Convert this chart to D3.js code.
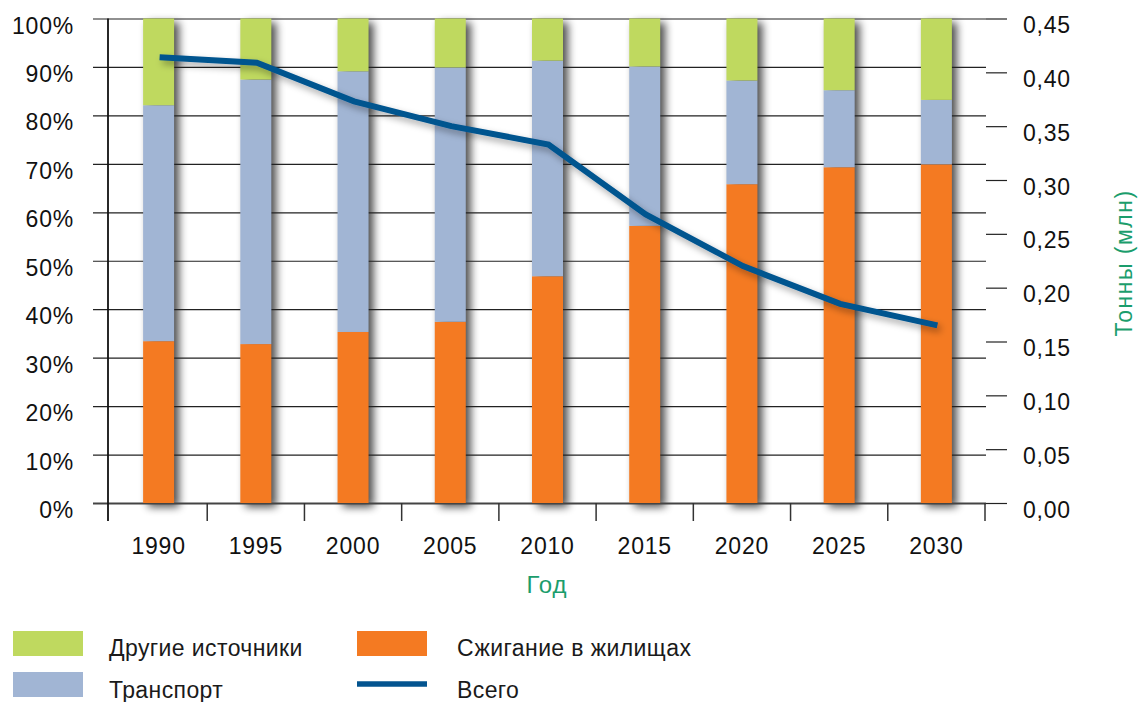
<!DOCTYPE html>
<html>
<head>
<meta charset="utf-8">
<script src="https://cdn.jsdelivr.net/npm/d3@7"></script>
<style>
  html, body { margin: 0; padding: 0; background: #fff; }
  svg { display: block; }
  text { font-family: "Liberation Sans", Arial, Helvetica, sans-serif; fill: #111; }
</style>
</head>
<body>
<svg id="chart" width="1140" height="702"></svg>
<script>
// ---- data ----
const years = ["1990", "1995", "2000", "2005", "2010", "2015", "2020", "2025", "2030"];
// shares, % of total
const household = [33.4, 32.8, 35.3, 37.4, 46.8, 57.2, 65.8, 69.3, 69.9];   // Сжигание в жилищах
const transport = [48.7, 54.6, 53.8, 52.5, 44.5, 32.9, 21.4, 15.9, 13.3];   // Транспорт
const other     = [17.9, 12.6, 10.9, 10.1,  8.7,  9.9, 12.8, 14.8, 16.8];   // Другие источники
// total, million tonnes (right axis)
const total     = [0.414, 0.409, 0.373, 0.350, 0.333, 0.268, 0.220, 0.185, 0.165];

const leftTicks  = [0, 10, 20, 30, 40, 50, 60, 70, 80, 90, 100];
const rightTicks = [0, 0.05, 0.10, 0.15, 0.20, 0.25, 0.30, 0.35, 0.40, 0.45];

const seriesNames  = ["Сжигание в жилищах", "Транспорт", "Другие источники"];
const seriesColors = ["#f47a22", "#a1b5d4", "#bfd95f"];
const lineName = "Всего";
const lineColor = "#03548f";
const xTitle = "Год";
const yRightTitle = "Тонны (млн)";
const titleColor = "#1b9d6c";

// ---- layout ----
const svg = d3.select("#chart");
const plotTop = 18.5, plotBottom = 503;
const axisX = 108, gridLeft = 93, gridRight = 986, rightTickEnd = 1007;
const FONT = "'Liberation Sans', Arial, sans-serif";

const x = d3.scaleBand().domain(years).range([110, 985]).paddingInner(0).paddingOuter(0);
const yL = d3.scaleLinear().domain([0, 100]).range([plotBottom, plotTop]);
const yR = d3.scaleLinear().domain([0, 0.45]).range([plotBottom, plotTop]);
const barW = 31;

// filters
const defs = svg.append("defs");
const f = defs.append("filter").attr("id", "barShadow")
  .attr("x", "-60%").attr("y", "-10%").attr("width", "220%").attr("height", "130%");
f.append("feGaussianBlur").attr("in", "SourceAlpha").attr("stdDeviation", 4.5).attr("result", "b");
f.append("feOffset").attr("in", "b").attr("dx", 5).attr("dy", 4).attr("result", "o");
f.append("feComponentTransfer").attr("in", "o")
  .append("feFuncA").attr("type", "linear").attr("slope", 0.7);

const lf = defs.append("filter").attr("id", "lineShadow")
  .attr("x", "-10%").attr("y", "-20%").attr("width", "120%").attr("height", "140%");
lf.append("feDropShadow").attr("dx", 3).attr("dy", 4).attr("stdDeviation", 3.5)
  .attr("flood-color", "#000").attr("flood-opacity", 0.35);

// stacked data
const rows = years.map((yr, i) => ({ year: yr, s0: household[i], s1: transport[i], s2: other[i] }));
const stack = d3.stack().keys(["s0", "s1", "s2"])(rows);

// bar shadows
svg.append("g").attr("filter", "url(#barShadow)")
  .selectAll("rect").data(rows).join("rect")
  .attr("x", d => x(d.year) + x.bandwidth() / 2 - barW / 2)
  .attr("width", barW)
  .attr("y", d => yL(d.s0 + d.s1 + d.s2))
  .attr("height", d => yL(0) - yL(d.s0 + d.s1 + d.s2))
  .attr("fill", "#000");

// left axis with gridlines
const gL = svg.append("g").attr("transform", `translate(${gridLeft},0)`)
  .call(d3.axisLeft(yL).tickValues(leftTicks).tickSize(-(gridRight - gridLeft)).tickSizeOuter(0)
    .tickPadding(19).tickFormat(d => d + "%"));
gL.select(".domain").remove();
gL.selectAll(".tick line").attr("stroke", d => d === 0 ? "#444" : "#222").attr("stroke-width", d => d === 0 ? 1.8 : 1.2);
gL.selectAll(".tick text").attr("dy", 14.5).attr("font-size", 23).attr("letter-spacing", 0.8)
  .style("font-family", FONT).attr("fill", "#111");

// right axis
const gR = svg.append("g").attr("transform", `translate(${gridRight},0)`)
  .call(d3.axisRight(yR).tickValues(rightTicks).tickSize(rightTickEnd - gridRight).tickSizeOuter(0)
    .tickPadding(16).tickFormat(d => d3.format(".2f")(d).replace(".", ",")));
gR.select(".domain").remove();
gR.selectAll(".tick line").attr("stroke", "#222").attr("stroke-width", 1.2);
gR.selectAll(".tick text").attr("dy", 14).attr("font-size", 23).attr("letter-spacing", 0.8)
  .style("font-family", FONT).attr("fill", "#111");

// left axis vertical line
svg.append("line").attr("x1", axisX).attr("x2", axisX).attr("y1", plotTop).attr("y2", 521)
  .attr("stroke", "#111").attr("stroke-width", 1.8);

// bars
svg.append("g").selectAll("g").data(stack).join("g")
  .attr("fill", (d, i) => seriesColors[i])
  .selectAll("rect").data(d => d).join("rect")
  .attr("x", d => x(d.data.year) + x.bandwidth() / 2 - barW / 2)
  .attr("width", barW)
  .attr("y", d => yL(d[1]))
  .attr("height", d => yL(d[0]) - yL(d[1]));

// x axis (labels at centres, ticks at band boundaries)
const gX = svg.append("g").attr("transform", `translate(0,${plotBottom})`)
  .call(d3.axisBottom(x).tickSize(0).tickSizeOuter(0).tickPadding(0));
gX.select(".domain").remove();
gX.selectAll(".tick text").attr("y", 51).attr("dy", 0).attr("font-size", 23).attr("letter-spacing", 0.8)
  .style("font-family", FONT).attr("fill", "#111");
svg.append("g").selectAll("line").data(years).join("line")
  .attr("x1", d => x(d) + x.step()).attr("x2", d => x(d) + x.step())
  .attr("y1", plotBottom).attr("y2", 521)
  .attr("stroke", "#333").attr("stroke-width", 1.5);

// total line
const line = d3.line().x((d, i) => x(years[i]) + x.bandwidth() / 2 + 1).y(d => yR(d));
svg.append("path").datum(total).attr("d", line)
  .attr("fill", "none").attr("stroke", lineColor).attr("stroke-width", 6)
  .attr("filter", "url(#lineShadow)");

// titles
svg.append("text").attr("x", 547).attr("y", 593).attr("text-anchor", "middle")
  .attr("font-size", 24).attr("letter-spacing", 1).style("fill", titleColor).text(xTitle);
svg.append("text").attr("transform", "translate(1132,263) rotate(-90)").attr("text-anchor", "middle")
  .attr("font-size", 23).attr("letter-spacing", 1.5).style("fill", titleColor).text(yRightTitle);

// legend
const legend = svg.append("g");
const legItems = [
  { name: seriesNames[2], color: seriesColors[2], type: "rect", x: 13, y: 631, tx: 109, ty: 656 },
  { name: seriesNames[1], color: seriesColors[1], type: "rect", x: 13, y: 672, tx: 109, ty: 697.5 },
  { name: seriesNames[0], color: seriesColors[0], type: "rect", x: 357, y: 631, tx: 457, ty: 656 },
  { name: lineName, color: lineColor, type: "line", x: 357, y: 684, tx: 457, ty: 697.5 }
];
legItems.forEach(it => {
  if (it.type === "rect") {
    legend.append("rect").attr("x", it.x).attr("y", it.y).attr("width", 70).attr("height", 25).attr("fill", it.color);
  } else {
    legend.append("line").attr("x1", it.x).attr("x2", it.x + 70).attr("y1", it.y).attr("y2", it.y)
      .attr("stroke", it.color).attr("stroke-width", 5.5);
  }
  legend.append("text").attr("x", it.tx).attr("y", it.ty).attr("font-size", 23).attr("letter-spacing", 0.4)
    .style("fill", "#1a1a1a").text(it.name);
});
</script>
</body>
</html>
